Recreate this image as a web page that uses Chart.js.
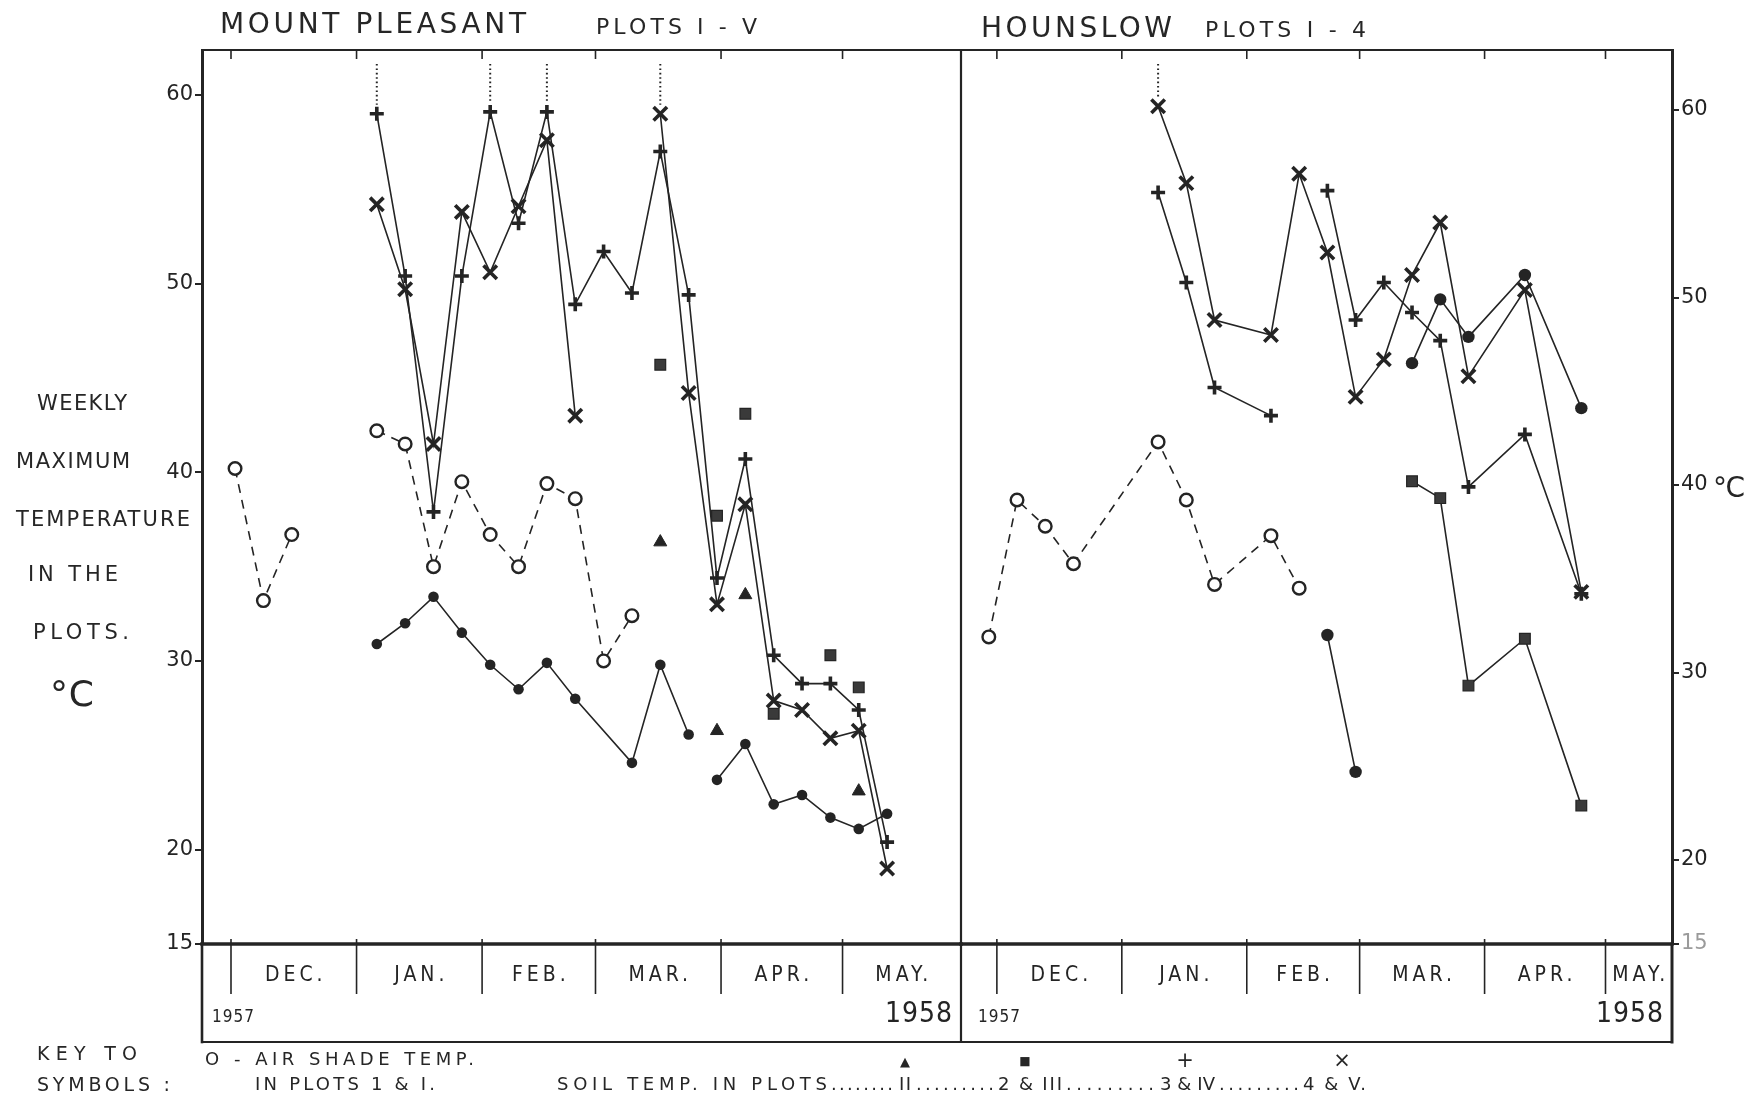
<!DOCTYPE html>
<html>
<head>
<meta charset="utf-8">
<title>Weekly maximum temperature in the plots, 1957-1958</title>
<script src="https://cdn.jsdelivr.net/npm/chart.js@4.4.1/dist/chart.umd.min.js"></script>
<style>
  html, body { margin: 0; padding: 0; background: #ffffff; }
  #wrap { position: relative; width: 1756px; height: 1101px; overflow: hidden;
          font-family: "DejaVu Sans", sans-serif; color: #262626; background: #ffffff; }
  #wrap canvas { position: absolute; left: 0; top: 0; }
  .t { position: absolute; white-space: nowrap; line-height: 1; }
</style>
</head>
<body>
<div id="wrap">
  <canvas id="mp" width="1756" height="1101"></canvas>
  <canvas id="ho" width="1756" height="1101"></canvas>
</div>
<script>
// ---------------------------------------------------------------------------
// Calendar: days are counted from 1 December 1957
// ---------------------------------------------------------------------------
const MONTHS = ['DEC.', 'JAN.', 'FEB.', 'MAR.', 'APR.', 'MAY.'];
const MONTH_START = [0, 31, 62, 90, 121, 151];
const Y_TICKS = [15, 20, 30, 40, 50, 60];

// ---------------------------------------------------------------------------
// Mount Pleasant, plots I - V (weekly readings, week 0 = first week of Dec.)
// Each series is a list of runs; a new run starts where the line is broken.
// ---------------------------------------------------------------------------
const MP_FIRST_DAY = 1;
const MP_DAYS = [-7.16, 180.25];
const MP_TEMPS = [15, 62.38];

const MP_AIR_WEEKS = [[0, 1, 2], [5, 6, 7, 8, 9, 10, 11, 12, 13, 14]];
const MP_AIR = [[40.2, 33.2, 36.7], [42.2, 41.5, 35.0, 39.5, 36.7, 35.0, 39.4, 38.6, 30.0, 32.4]];

const MP_SOIL_I_WEEKS = [[5, 6, 7, 8, 9, 10, 11, 12, 14, 15, 16], [17, 18, 19, 20, 21, 22, 23]];
const MP_SOIL_I = [[30.9, 32.0, 33.4, 31.5, 29.8, 28.5, 29.9, 28.0, 24.6, 29.8, 26.1],
                   [23.7, 25.6, 22.4, 22.9, 21.7, 21.1, 21.9]];

const MP_SOIL_II_WEEKS = [[15, 17, 18, 22]];
const MP_SOIL_II = [[36.3, 26.3, 33.5, 23.1]];

const MP_SOIL_III_WEEKS = [[15, 17, 18, 19, 21, 22]];
const MP_SOIL_III = [[45.7, 37.7, 43.1, 27.2, 30.3, 28.6]];

const MP_SOIL_IV_WEEKS = [[5, 6, 7, 8, 9, 10, 11, 12, 13, 14, 15, 16, 17, 18, 19, 20, 21, 22, 23]];
const MP_SOIL_IV = [[59.0, 50.4, 37.9, 50.4, 59.1, 53.2, 59.1, 48.9, 51.7, 49.5,
                     57.0, 49.4, 34.4, 40.7, 30.3, 28.8, 28.8, 27.4, 20.4]];
const MP_SOIL_IV_OFFSCALE = [5, 9, 11];

const MP_SOIL_V_WEEKS = [[5, 6, 7, 8, 9, 10, 11, 12], [15, 16, 17, 18, 19, 20, 21, 22, 23]];
const MP_SOIL_V = [[54.2, 49.7, 41.5, 53.8, 50.6, 54.1, 57.6, 43.0],
                   [59.0, 44.2, 33.0, 38.3, 27.9, 27.4, 25.9, 26.3, 19.0]];
const MP_SOIL_V_OFFSCALE = [15];

// ---------------------------------------------------------------------------
// Hounslow, plots 1 - 4
// ---------------------------------------------------------------------------
const HO_FIRST_DAY = -2;
const HO_DAYS = [-8.9, 167.5];
const HO_TEMPS = [15.52, 63.2];

const HO_AIR_WEEKS = [[0, 1, 2, 3, 6, 7, 8, 10, 11]];
const HO_AIR = [[31.9, 39.2, 37.8, 35.8, 42.3, 39.2, 34.7, 37.3, 34.5]];

const HO_SOIL_1_WEEKS = [[12, 13], [15, 16, 17, 19, 21]];
const HO_SOIL_1 = [[32.0, 24.7], [46.5, 49.9, 47.9, 51.2, 44.1]];

const HO_SOIL_2_WEEKS = [[15, 16, 17, 19, 21]];
const HO_SOIL_2 = [[40.2, 39.3, 29.3, 31.8, 22.9]];

const HO_SOIL_3_WEEKS = [[6, 7, 8, 10], [12, 13, 14, 15, 16, 17, 19, 21]];
const HO_SOIL_3 = [[55.6, 50.8, 45.2, 43.7], [55.7, 48.8, 50.8, 49.2, 47.7, 39.9, 42.7, 34.2]];

const HO_SOIL_4_WEEKS = [[6, 7, 8, 10, 11, 12, 13, 14, 15, 16, 17, 19, 21]];
const HO_SOIL_4 = [[60.2, 56.1, 48.8, 48.0, 56.6, 52.4, 44.7, 46.7, 51.2, 54.0, 45.8, 50.4, 34.3]];
const HO_SOIL_4_OFFSCALE = [6];

// ---------------------------------------------------------------------------
// Layout and drawing style
// ---------------------------------------------------------------------------
const INK = '#242424';
const FONT = '"DejaVu Sans", sans-serif';
const FONT_NARROW = '"DejaVu Sans Condensed", "DejaVu Sans", sans-serif';
const W = 1756, H = 1101;
const FRAME_TOP = 50, AXIS_Y = 944, BAND_BOTTOM = 1042;
const LEFT_AXIS_X = 202, DIVIDER_X = 961, RIGHT_AXIS_X = 1672;
const MONTH_LABEL_Y = 976;

function runsToPoints(weekRuns, valueRuns, firstDay) {
  const pts = [];
  weekRuns.forEach((weeks, r) => {
    if (r > 0) pts.push({ x: firstDay + 7 * weeks[0] - 0.5, y: null });
    weeks.forEach((w, i) => pts.push({ x: firstDay + 7 * w, y: valueRuns[r][i] }));
  });
  return pts;
}

const STYLES = {
  air:    { pointStyle: 'circle', pointRadius: 6.3, pointBorderWidth: 2.4,
            pointBackgroundColor: '#ffffff', borderDash: [9, 7], showLine: true },
  dot:    { pointStyle: 'circle', pointRadius: 5.3, pointBorderWidth: 0,
            pointBackgroundColor: INK, showLine: true },
  bigdot: { pointStyle: 'circle', pointRadius: 6.2, pointBorderWidth: 0,
            pointBackgroundColor: INK, showLine: true },
  tri:    { pointStyle: 'triangle', pointRadius: 7.5, pointBorderWidth: 1,
            pointBackgroundColor: INK, showLine: false },
  sq:     { pointStyle: 'rect', pointRadius: 7.6, pointBorderWidth: 1.2,
            pointBackgroundColor: '#3a3a3a', showLine: false },
  sqline: { pointStyle: 'rect', pointRadius: 7.6, pointBorderWidth: 1.2,
            pointBackgroundColor: '#3a3a3a', showLine: true },
  plus:   { pointStyle: 'cross', pointRadius: 7, pointBorderWidth: 3.6,
            pointBackgroundColor: INK, showLine: true },
  times:  { pointStyle: 'crossRot', pointRadius: 9.5, pointBorderWidth: 3.6,
            pointBackgroundColor: INK, showLine: true }
};

function series(label, weekRuns, valueRuns, firstDay, style, offScale) {
  return Object.assign({
    label,
    data: runsToPoints(weekRuns, valueRuns, firstDay),
    borderColor: INK,
    pointBorderColor: INK,
    borderWidth: 1.6,
    tension: 0,
    spanGaps: false,
    clip: false,
    offScaleDays: (offScale || []).map(w => firstDay + 7 * w)
  }, STYLES[style]);
}

function line(ctx, x1, y1, x2, y2, w) {
  ctx.lineWidth = w;
  ctx.beginPath();
  ctx.moveTo(x1, y1);
  ctx.lineTo(x2, y2);
  ctx.stroke();
}

// Dotted leaders above readings that went beyond the top of the scale
const offScalePlugin = {
  id: 'offScale',
  afterDatasetsDraw(chart) {
    const { ctx, chartArea: a } = chart;
    ctx.save();
    ctx.strokeStyle = INK;
    ctx.setLineDash([1.6, 2.8]);
    chart.data.datasets.forEach((ds, i) => {
      if (!ds.offScaleDays || !ds.offScaleDays.length) return;
      const meta = chart.getDatasetMeta(i);
      ds.data.forEach((p, j) => {
        if (p.y === null || !ds.offScaleDays.includes(p.x)) return;
        const el = meta.data[j];
        line(ctx, el.x, a.top + 14, el.x, el.y - 9, 2);
      });
    });
    ctx.restore();
  }
};

// Frame, month band and year labels of one panel
function panelFrame(opts) {
  return {
    id: 'panelFrame',
    afterDraw(chart) {
      const { ctx, chartArea: a } = chart;
      const x = chart.scales.x;
      ctx.save();
      ctx.strokeStyle = INK;
      ctx.fillStyle = INK;
      ctx.lineCap = 'square';
      line(ctx, a.left, a.top, a.right, a.top, 2);
      line(ctx, a.left, a.bottom, a.right, a.bottom, 3.5);
      line(ctx, a.left, BAND_BOTTOM, a.right, BAND_BOTTOM, 2);
      if (opts.leftEdge) line(ctx, a.left, a.bottom, a.left, BAND_BOTTOM, 2.6);
      if (opts.rightEdge) line(ctx, a.right, a.top, a.right, BAND_BOTTOM, 2.2);
      if (opts.rightAxis) line(ctx, a.right, a.bottom, a.right, BAND_BOTTOM, 3);
      ctx.lineCap = 'butt';

      ctx.font = '21px ' + FONT_NARROW;
      ctx.textAlign = 'center';
      ctx.textBaseline = 'middle';
      if ('letterSpacing' in ctx) ctx.letterSpacing = '4px';
      MONTH_START.forEach((d, i) => {
        const px = x.getPixelForValue(d);
        if (px > a.left + 2 && px < a.right - 2) {
          line(ctx, px, a.top, px, a.top + 9, 1.6);
          line(ctx, px, a.bottom - 5, px, a.bottom + 50, 1.6);
        }
        const nx = i + 1 < MONTH_START.length ? x.getPixelForValue(MONTH_START[i + 1]) : a.right;
        const cx = (Math.max(px, a.left) + Math.min(nx, a.right)) / 2 + 2;
        ctx.fillText(MONTHS[i], cx, MONTH_LABEL_Y);
      });

      if ('letterSpacing' in ctx) ctx.letterSpacing = '1px';
      ctx.textAlign = 'left';
      ctx.font = '17px ' + FONT_NARROW;
      ctx.fillText(opts.startYear, a.left + opts.startYearPad, 1018);
      ctx.textAlign = 'right';
      ctx.font = '28px ' + FONT_NARROW;
      ctx.fillText(opts.endYear, a.right - 8, 1015);
      ctx.restore();
    }
  };
}

function yAxis(position, range, width, tickValues, labelFor) {
  return {
    type: 'linear',
    position,
    min: range[0],
    max: range[1],
    afterFit: s => { s.width = width; },
    afterBuildTicks: s => { s.ticks = tickValues.map(v => ({ value: v })); },
    border: { display: true, color: INK, width: 3 },
    grid: { drawOnChartArea: false, drawTicks: true, tickLength: 7, color: INK, lineWidth: 2 },
    ticks: {
      autoSkip: false,
      padding: 2,
      color: c => (position === 'right' && c.tick && c.tick.value < 16) ? '#9a9a9a' : INK,
      font: { family: FONT, size: 21 },
      callback: labelFor
    }
  };
}

function makeChart(id, datasets, days, temps, yPos, padding, yWidth, tickValues, labelFor, frameOpts) {
  return new Chart(document.getElementById(id), {
    type: 'line',
    data: { datasets },
    options: {
      responsive: false,
      animation: false,
      devicePixelRatio: 1,
      events: [],
      layout: { padding },
      plugins: { legend: { display: false }, tooltip: { enabled: false } },
      scales: {
        x: { type: 'linear', display: false, min: days[0], max: days[1] },
        y: yAxis(yPos, temps, yWidth, tickValues, labelFor)
      }
    },
    plugins: [offScalePlugin, panelFrame(frameOpts)]
  });
}

// Mount Pleasant panel
makeChart('mp', [
    series('Air shade temp., plots 1 & I', MP_AIR_WEEKS, MP_AIR, MP_FIRST_DAY, 'air'),
    series('Soil temp., plot I', MP_SOIL_I_WEEKS, MP_SOIL_I, MP_FIRST_DAY, 'dot'),
    series('Soil temp., plot II', MP_SOIL_II_WEEKS, MP_SOIL_II, MP_FIRST_DAY, 'tri'),
    series('Soil temp., plot III', MP_SOIL_III_WEEKS, MP_SOIL_III, MP_FIRST_DAY, 'sq'),
    series('Soil temp., plot IV', MP_SOIL_IV_WEEKS, MP_SOIL_IV, MP_FIRST_DAY, 'plus', MP_SOIL_IV_OFFSCALE),
    series('Soil temp., plot V', MP_SOIL_V_WEEKS, MP_SOIL_V, MP_FIRST_DAY, 'times', MP_SOIL_V_OFFSCALE)
  ], MP_DAYS, MP_TEMPS, 'left',
  { top: FRAME_TOP, bottom: H - AXIS_Y, left: 0, right: W - DIVIDER_X },
  LEFT_AXIS_X, Y_TICKS, v => String(v),
  { leftEdge: true, rightEdge: true, rightAxis: false, startYear: '1957', endYear: '1958', startYearPad: 10 });

// Hounslow panel
makeChart('ho', [
    series('Air shade temp., plot 1', HO_AIR_WEEKS, HO_AIR, HO_FIRST_DAY, 'air'),
    series('Soil temp., plot 1', HO_SOIL_1_WEEKS, HO_SOIL_1, HO_FIRST_DAY, 'bigdot'),
    series('Soil temp., plot 2', HO_SOIL_2_WEEKS, HO_SOIL_2, HO_FIRST_DAY, 'sqline'),
    series('Soil temp., plot 3', HO_SOIL_3_WEEKS, HO_SOIL_3, HO_FIRST_DAY, 'plus'),
    series('Soil temp., plot 4', HO_SOIL_4_WEEKS, HO_SOIL_4, HO_FIRST_DAY, 'times', HO_SOIL_4_OFFSCALE)
  ], HO_DAYS, HO_TEMPS, 'right',
  { top: FRAME_TOP, bottom: H - AXIS_Y, left: DIVIDER_X, right: 0 },
  W - RIGHT_AXIS_X, Y_TICKS.map(v => Math.max(v, HO_TEMPS[0])), v => (v < 16 ? '15' : String(v)),
  { leftEdge: false, rightEdge: false, rightAxis: true, startYear: '1957', endYear: '1958', startYearPad: 17 });

// ---------------------------------------------------------------------------
// Titles, axis caption and key
// ---------------------------------------------------------------------------
const wrap = document.getElementById('wrap');
function label(text, left, cy, size, width, extra) {
  const el = document.createElement('div');
  el.className = 't';
  el.textContent = text;
  el.style.fontSize = size + 'px';
  el.style.left = left + 'px';
  el.style.top = (cy - 0.4815 * size) + 'px';
  Object.assign(el.style, extra || {});
  wrap.appendChild(el);
  if (width) {
    const n = [...text].length;
    const natural = el.getBoundingClientRect().width;
    if (n > 1) el.style.letterSpacing = ((width - natural) / (n - 1)) + 'px';
  }
  return el;
}
function centred(text, cx, cy, size) {
  return label(text, cx, cy, size, null, { transform: 'translateX(-50%)' });
}

label('MOUNT PLEASANT', 220, 23, 28, 306);
label('PLOTS I - V', 596, 27, 22, 161);
label('HOUNSLOW', 981, 27, 28, 191);
label('PLOTS I - 4', 1205, 30, 22, 161);

label('WEEKLY', 37, 403, 21, 90);
label('MAXIMUM', 16, 461, 21, 114);
label('TEMPERATURE', 16, 519, 21, 174);
label('IN THE', 28, 574, 21, 90);
label('PLOTS.', 33, 632, 21, 96);
label('°C', 50, 693, 36, 44);
label('°C', 1713, 487, 28, 32);

label('KEY TO', 37, 1053, 19, 100);
label('SYMBOLS :', 37, 1084, 19, 133);
label('O - AIR SHADE TEMP.', 205, 1059, 18, 269);
label('IN PLOTS 1 & I.', 255, 1084, 18, 180);

label('SOIL TEMP. IN PLOTS', 557, 1084, 18, 270);
label('........', 831, 1084, 18, 62);
label('II', 899, 1084, 18, 12);
label('.........', 916, 1084, 18, 78);
label('2 & III', 998, 1084, 18, 64);
label('.........', 1066, 1084, 18, 88);
label('3 & IV', 1160, 1084, 18, 55);
label('.........', 1219, 1084, 18, 80);
label('4 & V.', 1303, 1084, 18, 63);

centred('▲', 905, 1061, 13);
centred('■', 1025, 1061, 12);
centred('+', 1185, 1060, 21);
centred('×', 1342, 1060, 21);
</script>
</body>
</html>
